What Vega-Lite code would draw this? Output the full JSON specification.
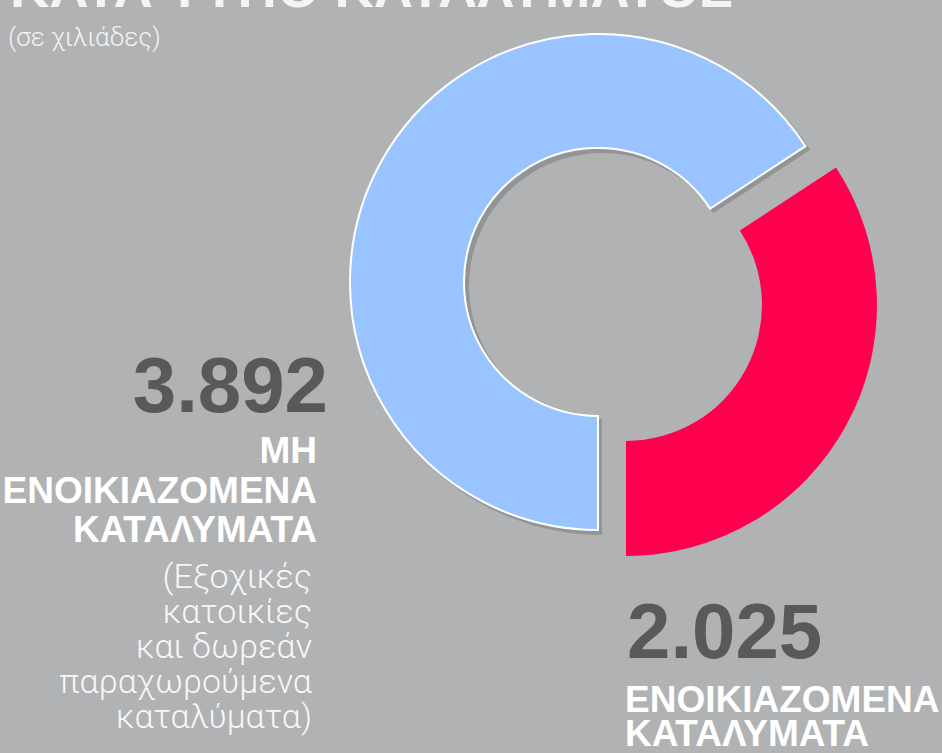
{
  "$schema": "https://vega.github.io/schema/vega-lite/v6.json",
  "width": 942,
  "height": 753,
  "autosize": {"type": "none"},
  "padding": 0,
  "background": "#b1b2b4",
  "config": {
    "view": {"stroke": null},
    "locale": {"number": {"decimal": ",", "thousands": ".", "grouping": [3], "currency": ["€", ""]}}
  },
  "datasets": {
    "slices": [
      {"order": 1, "category": "ΜΗ ΕΝΟΙΚΙΑΖΟΜΕΝΑ ΚΑΤΑΛΥΜΑΤΑ", "label": "ΜΗ|ΕΝΟΙΚΙΑΖΟΜΕΝΑ|ΚΑΤΑΛΥΜΑΤΑ", "note": "(Εξοχικές|κατοικίες|και δωρεάν|παραχωρούμενα|καταλύματα)", "value": 3892},
      {"order": 2, "category": "ΕΝΟΙΚΙΑΖΟΜΕΝΑ ΚΑΤΑΛΥΜΑΤΑ", "label": "ΕΝΟΙΚΙΑΖΟΜΕΝΑ|ΚΑΤΑΛΥΜΑΤΑ", "note": "", "value": 2025}
    ]
  },
  "data": {"name": "slices"},
  "layer": [
    {
      "data": {"values": [{}]},
      "mark": {"type": "text", "text": "ΚΑΤΑ ΤΥΠΟ ΚΑΤΑΛΥΜΑΤΟΣ", "x": 10, "y": 7, "align": "left", "baseline": "alphabetic", "font": "Liberation Sans", "fontWeight": "bold", "fontSize": 54.5, "color": "#f4f4f4"}
    },
    {
      "data": {"values": [{}]},
      "mark": {"type": "text", "text": "(σε χιλιάδες)", "x": 8, "y": 46, "align": "left", "baseline": "alphabetic", "font": "Roboto", "fontWeight": 300, "fontSize": 26, "color": "#f4f4f4"}
    },
    {
      "transform": [
        {"stack": "value", "groupby": [], "sort": [{"field": "order"}], "as": ["v0", "v1"]},
        {"filter": "datum.order == 1"}
      ],
      "mark": {"type": "arc", "x": 602, "y": 286, "radius": 249, "radius2": 133, "color": "#3a3a3a", "opacity": 0.25},
      "encoding": {
        "theta": {"field": "v0", "type": "quantitative", "stack": null, "scale": {"domain": [0, 5917], "range": [3.14159, 9.42478]}},
        "theta2": {"field": "v1"}
      }
    },
    {
      "transform": [
        {"stack": "value", "groupby": [], "sort": [{"field": "order"}], "as": ["v0", "v1"]},
        {"filter": "datum.order == 1"}
      ],
      "mark": {"type": "arc", "x": 598, "y": 282, "radius": 248, "radius2": 134, "stroke": "#ffffff", "strokeWidth": 2},
      "encoding": {
        "theta": {"field": "v0", "type": "quantitative", "stack": null, "scale": {"domain": [0, 5917], "range": [3.14159, 9.42478]}},
        "theta2": {"field": "v1"},
        "color": {"field": "category", "type": "nominal", "scale": {"domain": ["ΜΗ ΕΝΟΙΚΙΑΖΟΜΕΝΑ ΚΑΤΑΛΥΜΑΤΑ", "ΕΝΟΙΚΙΑΖΟΜΕΝΑ ΚΑΤΑΛΥΜΑΤΑ"], "range": ["#99c4ff", "#ff004f"]}, "legend": null}
      }
    },
    {
      "transform": [
        {"stack": "value", "groupby": [], "sort": [{"field": "order"}], "as": ["v0", "v1"]},
        {"filter": "datum.order == 2"}
      ],
      "mark": {"type": "arc", "x": 626, "y": 305, "radius": 251, "radius2": 136},
      "encoding": {
        "theta": {"field": "v0", "type": "quantitative", "stack": null, "scale": {"domain": [0, 5917], "range": [3.14159, 9.42478]}},
        "theta2": {"field": "v1"},
        "color": {"field": "category", "type": "nominal", "legend": null}
      }
    },
    {
      "transform": [{"filter": "datum.order == 1"}],
      "mark": {"type": "text", "x": 328, "y": 412, "align": "right", "baseline": "alphabetic", "font": "Liberation Sans", "fontWeight": "bold", "fontSize": 78, "color": "#58595b"},
      "encoding": {"text": {"field": "value", "type": "quantitative", "format": ","}}
    },
    {
      "transform": [{"filter": "datum.order == 1"}],
      "mark": {"type": "text", "x": 317, "y": 463, "align": "right", "baseline": "alphabetic", "lineBreak": "|", "lineHeight": 39.5, "font": "Liberation Sans", "fontWeight": "bold", "fontSize": 37, "color": "#ffffff"},
      "encoding": {"text": {"field": "label", "type": "nominal"}}
    },
    {
      "transform": [{"filter": "datum.order == 1"}],
      "mark": {"type": "text", "x": 312, "y": 588, "align": "right", "baseline": "alphabetic", "lineBreak": "|", "lineHeight": 35, "font": "Roboto", "fontWeight": 300, "fontSize": 34, "color": "#f7f7f7"},
      "encoding": {"text": {"field": "note", "type": "nominal"}}
    },
    {
      "transform": [{"filter": "datum.order == 2"}],
      "mark": {"type": "text", "x": 627, "y": 658, "align": "left", "baseline": "alphabetic", "font": "Liberation Sans", "fontWeight": "bold", "fontSize": 78, "color": "#58595b"},
      "encoding": {"text": {"field": "value", "type": "quantitative", "format": ","}}
    },
    {
      "transform": [{"filter": "datum.order == 2"}],
      "mark": {"type": "text", "x": 625, "y": 712, "align": "left", "baseline": "alphabetic", "lineBreak": "|", "lineHeight": 34, "font": "Liberation Sans", "fontWeight": "bold", "fontSize": 37, "color": "#ffffff"},
      "encoding": {"text": {"field": "label", "type": "nominal"}}
    }
  ]
}
